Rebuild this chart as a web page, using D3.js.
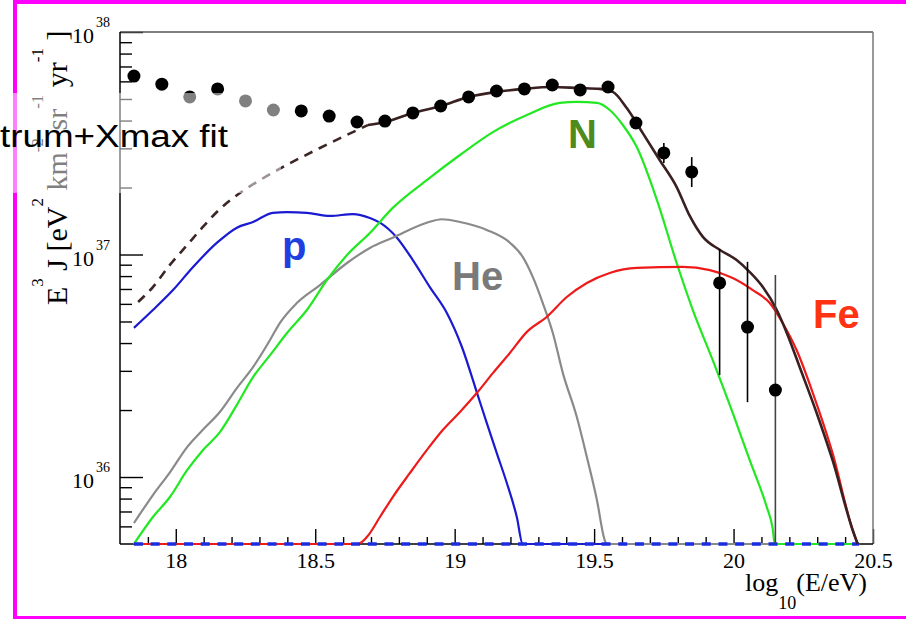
<!DOCTYPE html>
<html>
<head>
<meta charset="utf-8">
<script src="https://cdn.jsdelivr.net/npm/d3@7"></script>
<style>
  body { margin: 0; background: #fff; }
  svg { display: block; }
</style>
</head>
<body>
<div id="chart"></div>
<script>
/* DATA */
// measured points (log10 E, E^3 J)
let dataE = [17.85, 17.95, 18.05, 18.15, 18.25, 18.35, 18.45, 18.55, 18.65, 18.75, 18.85, 18.95,
             19.05, 19.15, 19.25, 19.35, 19.45, 19.55, 19.65, 19.75, 19.85, 19.95, 20.05, 20.15]
let dataFlux = [6.34e37, 5.83e37, 5.11e37, 5.55e37, 4.90e37, 4.46e37, 4.42e37, 4.19e37, 3.94e37, 3.98e37, 4.33e37, 4.65e37,
                5.11e37, 5.43e37, 5.55e37, 5.78e37, 5.49e37, 5.66e37, 3.90e37, 2.86e37, 2.35e37, 7.45e36, 4.72e36, 2.46e36]

// error bars big enough to be seen
let errE = [19.75, 19.85, 19.95, 20.05, 20.15]
let errLo = [2.58e37, 2.01e37, 2.87e36, 2.17e36, 1e30]
let errHi = [3.17e37, 2.74e37, 1.06e37, 9.27e36, 8.09e36]

// fitted components, [log10 E, E^3 J]; values under the frame floor sit on the axis
let protons = [[17.85, 4.68e36], [17.918, 5.63e36], [17.99, 6.92e36], [18.062, 8.79e36], [18.148, 1.13e37], [18.219, 1.32e37],
  [18.277, 1.40e37], [18.348, 1.54e37], [18.399, 1.55e37], [18.47, 1.54e37], [18.553, 1.49e37], [18.635, 1.52e37],
  [18.696, 1.46e37], [18.732, 1.39e37], [18.793, 1.19e37], [18.85, 9.44e36], [18.911, 7.14e36], [18.972, 5.46e36],
  [19.026, 3.84e36], [19.08, 2.39e36], [19.115, 1.75e36], [19.151, 1.28e36], [19.187, 9.4e35], [19.223, 6.6e35],
  [19.244, 5.0e35], [19.26, 1e30], [20.45, 1e30]]

let helium = [[17.85, 6.21e35], [17.918, 8.30e35], [17.979, 1.05e36], [18.04, 1.36e36], [18.097, 1.63e36], [18.158, 1.96e36],
  [18.219, 2.51e36], [18.277, 3.12e36], [18.338, 4.13e36], [18.373, 4.92e36], [18.434, 6.05e36], [18.517, 7.29e36],
  [18.614, 9.16e36], [18.696, 1.07e37], [18.778, 1.19e37], [18.9, 1.39e37], [18.954, 1.44e37], [19.019, 1.40e37],
  [19.115, 1.29e37], [19.198, 1.13e37], [19.244, 9.75e36], [19.28, 7.93e36], [19.316, 6.05e36], [19.352, 4.44e36],
  [19.388, 2.93e36], [19.438, 1.86e36], [19.474, 1.23e36], [19.51, 7.89e35], [19.538, 5.21e35], [19.545, 5.0e35],
  [19.56, 1e30], [20.45, 1e30]]

let nitrogen = [[17.85, 5.0e35], [17.918, 6.61e35], [17.979, 8.13e35], [18.04, 1.07e36], [18.097, 1.32e36], [18.158, 1.59e36],
  [18.219, 2.11e36], [18.277, 2.81e36], [18.338, 3.53e36], [18.399, 4.44e36], [18.47, 5.63e36], [18.542, 7.68e36],
  [18.614, 9.95e36], [18.696, 1.25e37], [18.778, 1.62e37], [18.9, 2.16e37], [19.019, 2.80e37], [19.137, 3.55e37],
  [19.259, 4.24e37], [19.377, 4.80e37], [19.438, 4.85e37], [19.51, 4.80e37], [19.556, 4.46e37], [19.603, 3.82e37],
  [19.653, 3.04e37], [19.725, 1.76e37], [19.796, 9.16e36], [19.854, 5.63e36], [19.925, 3.36e36], [19.997, 1.94e36],
  [20.058, 1.19e36], [20.119, 7.33e35], [20.14, 5.90e35], [20.148, 5.0e35], [20.16, 1e30], [20.45, 1e30]]

let iron = [[17.85, 1e30], [18.64, 1e30], [18.653, 5.0e35], [18.685, 5.37e35], [18.732, 6.61e35], [18.778, 8.13e35],
  [18.839, 1.04e36], [18.9, 1.32e36], [18.958, 1.63e36], [19.019, 1.96e36], [19.08, 2.39e36], [19.137, 2.93e36],
  [19.198, 3.61e36], [19.259, 4.49e36], [19.33, 5.24e36], [19.402, 6.44e36], [19.474, 7.45e36], [19.556, 8.26e36],
  [19.653, 8.70e36], [19.818, 8.79e36], [19.915, 8.51e36], [19.997, 7.84e36], [20.069, 6.92e36], [20.13, 6.05e36],
  [20.176, 4.92e36], [20.226, 3.72e36], [20.284, 2.39e36], [20.355, 1.28e36], [20.427, 5.78e35], [20.445, 5.0e35]]

// sum of components: dashed below the fit range, solid inside it
let totalBelow = [[17.865, 6.12e36], [17.918, 7.14e36], [17.979, 8.98e36], [18.04, 1.10e37], [18.097, 1.33e37],
  [18.158, 1.60e37], [18.23, 1.89e37], [18.302, 2.16e37], [18.399, 2.53e37], [18.517, 3.01e37], [18.635, 3.55e37],
  [18.689, 3.82e37]]
let totalFit = [[18.689, 3.82e37], [18.75, 3.94e37], [18.85, 4.33e37], [18.951, 4.65e37], [19.051, 5.11e37],
  [19.151, 5.38e37], [19.248, 5.55e37], [19.348, 5.66e37], [19.445, 5.60e37], [19.52, 5.55e37], [19.567, 5.38e37],
  [19.617, 4.55e37], [19.674, 3.52e37], [19.735, 2.66e37], [19.796, 2.01e37], [19.843, 1.49e37], [19.89, 1.20e37],
  [19.95, 1.05e37], [20.011, 9.44e36], [20.058, 8.34e36], [20.105, 7.14e36], [20.155, 5.63e36], [20.191, 4.44e36],
  [20.237, 3.12e36], [20.298, 1.94e36], [20.355, 1.19e36], [20.427, 5.78e35], [20.445, 5.0e35]]

// dashed line lying on the floor
let floorLine = [[17.85, 1e30], [20.45, 1e30]]

let xMajor = [18, 18.5, 19, 19.5, 20, 20.5]
let xMinor = [17.9, 18.1, 18.2, 18.3, 18.4, 18.6, 18.7, 18.8, 18.9, 19.1, 19.2, 19.3, 19.4,
              19.6, 19.7, 19.8, 19.9, 20.1, 20.2, 20.3, 20.4]
let yMajor = [1e36, 1e37, 1e38]
let yMajorExp = ["36", "37", "38"]
let yMinor = [6e35, 7e35, 8e35, 9e35, 2e36, 3e36, 4e36, 5e36, 6e36, 7e36, 8e36, 9e36,
              2e37, 3e37, 4e37, 5e37, 6e37, 7e37, 8e37, 9e37]

/* SVG OBJECT */
let svgWidth = 906
let svgHeight = 619
let svg = d3.select('#chart').append('svg').attr('width', svgWidth).attr('height', svgHeight)

svg.append('rect').attr('width', svgWidth).attr('height', svgHeight).attr('fill', '#fff')

// slide border
svg.append('rect').attr('x', 13).attr('y', 0).attr('width', 893).attr('height', 4).attr('fill', '#f0f')
svg.append('rect').attr('x', 13).attr('y', 0).attr('width', 4).attr('height', 619).attr('fill', '#f0f')
svg.append('rect').attr('x', 13).attr('y', 616).attr('width', 893).attr('height', 3).attr('fill', '#f0f')

/* SCALES */
let frame = {left: 120, top: 32, right: 873, bottom: 544}
let x = d3.scaleLinear().domain([17.8, 20.5]).range([frame.left, frame.right])
let y = d3.scaleLog().domain([5e35, 1e38]).range([frame.bottom, frame.top]).clamp(true)

let line = d3.line().x(d => x(d[0])).y(d => y(d[1])).curve(d3.curveMonotoneX)

/* AXES */
let serif = 'Liberation Serif, Times New Roman, serif'

let xAxis = svg.append('g').attr('transform', `translate(0,${frame.bottom})`)
  .call(d3.axisBottom(x).tickValues(xMajor).tickSize(-15).tickSizeOuter(0).tickPadding(8).tickFormat(d3.format('')))
xAxis.append('g')
  .call(d3.axisBottom(x).tickValues(xMinor).tickSize(-7).tickSizeOuter(0).tickFormat(''))
xAxis.selectAll('.domain').remove()
xAxis.selectAll('text').attr('font-family', serif).attr('font-size', 22).attr('fill', '#000')

let yAxis = svg.append('g').attr('transform', `translate(${frame.left},0)`)
  .call(d3.axisLeft(y).tickValues(yMajor).tickSize(-23).tickSizeOuter(0).tickFormat(''))
yAxis.append('g')
  .call(d3.axisLeft(y).tickValues(yMinor).tickSize(-12).tickSizeOuter(0).tickFormat(''))
yAxis.selectAll('.domain').remove()
svg.selectAll('.tick line').attr('stroke', '#000').attr('stroke-width', 1.4)

// 10^n labels
yMajor.forEach((v, i) => {
  let t = svg.append('text').attr('x', 72).attr('y', y(v) + 11)
    .attr('font-family', serif).attr('font-size', 22).attr('fill', '#000')
  t.append('tspan').text('10')
  t.append('tspan').attr('dx', 2).attr('dy', -16).attr('font-size', 14).text(yMajorExp[i])
})

// frame
svg.append('line').attr('x1', frame.left).attr('x2', frame.right).attr('y1', frame.top).attr('y2', frame.top)
  .attr('stroke', '#555').attr('stroke-width', 1.5)
svg.append('line').attr('x1', frame.right).attr('x2', frame.right).attr('y1', frame.top).attr('y2', frame.bottom)
  .attr('stroke', '#777').attr('stroke-width', 1.5)
svg.append('line').attr('x1', frame.left).attr('x2', frame.left).attr('y1', frame.top).attr('y2', frame.bottom)
  .attr('stroke', '#000').attr('stroke-width', 1.5)
svg.append('line').attr('x1', frame.left).attr('x2', frame.right).attr('y1', frame.bottom).attr('y2', frame.bottom)
  .attr('stroke', '#000').attr('stroke-width', 1.5)

// axis titles
let xt = svg.append('text').attr('x', 745).attr('y', 591)
  .attr('font-family', serif).attr('font-size', 26).attr('fill', '#000')
xt.append('tspan').text('log')
xt.append('tspan').attr('dy', 18).attr('font-size', 18).text('10')
xt.append('tspan').attr('dy', -18).text('(E/eV)')

let yt = svg.append('text').attr('transform', 'translate(67,305) rotate(-90)')
  .attr('font-family', serif).attr('font-size', 30).attr('fill', '#000')
let ytParts = [['E', false], ['3', true], [' J [eV', false], ['2', true], [' km', false], ['-2', true],
               [' sr', false], ['-1', true], [' yr', false], ['-1', true], [' ]', false]]
ytParts.forEach(p => {
  let s = yt.append('tspan').text(p[0])
  if (p[1]) s.attr('font-size', 17).attr('dy', -24)
  else s.attr('dy', 24)
})
yt.select('tspan').attr('dy', 0)

/* CURVES */
let plot = svg.append('g')

let comps = [
  {data: protons, color: '#1a1ad0'},
  {data: helium, color: '#8a8a8a'},
  {data: nitrogen, color: '#22e822'},
  {data: iron, color: '#ee1a1a'}
]
comps.forEach(c => {
  plot.append('path').attr('d', line(c.data)).attr('fill', 'none')
    .attr('stroke', c.color).attr('stroke-width', 2.2)
})

plot.append('path').attr('d', line(floorLine)).attr('fill', 'none')
  .attr('stroke', '#1a2ee0').attr('stroke-width', 3.5).attr('stroke-dasharray', '9,7.7')

plot.append('path').attr('d', line(totalBelow)).attr('fill', 'none')
  .attr('stroke', '#3d2626').attr('stroke-width', 2.6).attr('stroke-dasharray', '9,7')
plot.append('path').attr('d', line(totalFit)).attr('fill', 'none')
  .attr('stroke', '#3a2020').attr('stroke-width', 2.6)

// error bars and points
errE.forEach((e, i) => {
  plot.append('line').attr('x1', x(e)).attr('x2', x(e)).attr('y1', y(errLo[i])).attr('y2', y(errHi[i]))
    .attr('stroke', i == errE.length - 1 ? '#444' : '#000').attr('stroke-width', 1.6)
})
plot.selectAll('circle').data(dataE).enter().append('circle')
  .attr('cx', d => x(d)).attr('cy', (d, i) => y(dataFlux[i])).attr('r', 6.5).attr('fill', '#000')

// component labels
let sans = 'Liberation Sans, Arial, sans-serif'
let labels = [['p', 282, 260, '#1f3fe0'], ['He', 452, 290, '#7a7a7a'], ['N', 568, 148, '#4f8a1c'], ['Fe', 813, 328, '#ff3311']]
labels.forEach(l => {
  svg.append('text').attr('x', l[1]).attr('y', l[2]).attr('font-family', sans).attr('font-weight', 'bold')
    .attr('font-size', 40).attr('fill', l[3]).text(l[0])
})

/* OVERLAID TEXT BOX */
svg.append('rect').attr('x', 0).attr('y', 93).attr('width', 281).attr('height', 100)
  .attr('fill', '#fff').attr('fill-opacity', 0.5)
svg.append('text').attr('x', 0).attr('y', 147).attr('font-family', sans).attr('font-size', 31)
  .attr('textLength', 228).attr('lengthAdjust', 'spacingAndGlyphs').attr('fill', '#000')
  .text('trum+Xmax fit')
</script>
</body>
</html>
